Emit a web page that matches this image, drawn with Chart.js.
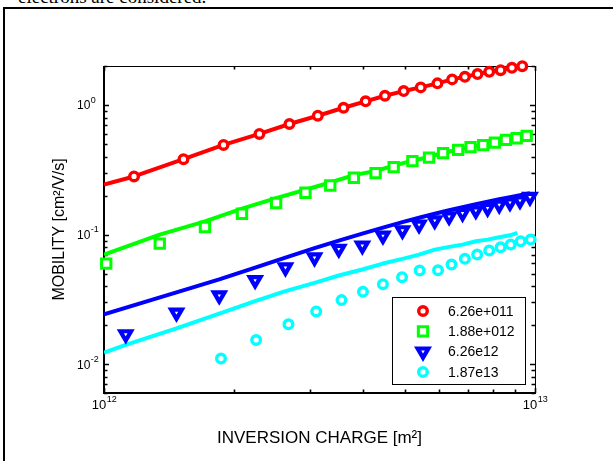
<!DOCTYPE html>
<html><head><meta charset="utf-8">
<script src="https://cdn.jsdelivr.net/npm/chart.js@4.4.0/dist/chart.umd.min.js"></script>
<style>
html,body{margin:0;padding:0;width:613px;height:461px;overflow:hidden;background:#fff;}
#caption{position:absolute;left:18px;top:-13px;font-family:"Liberation Serif","Times New Roman",serif;font-size:19px;line-height:20px;white-space:nowrap;color:#000;}
#frame{position:absolute;left:3px;top:7px;width:700px;height:600px;border:2px solid #000;box-sizing:border-box;}
#wrap{position:absolute;left:0;top:0;width:613px;height:461px;}
</style></head><body>
<div id="caption">electrons are considered.</div>
<div id="frame"></div>
<div id="wrap"><canvas id="c" width="613" height="461"></canvas></div>
<script>
// ---- tick labels ----
const tickBase = '10';
const xTickValues = [1e12, 1e13];
const xTickExponents = ['12', '13'];
const yTickValues = [0.01, 0.1, 1];
const yTickExponents = ['-2', '-1', '0'];

// ---- legend labels ----
const seriesLabels = ['6.26e+011', '1.88e+012', '6.26e12', '1.87e13'];

// ---- series 1 (red) ----
const redMarkX = [1.174e12,1.529e12,1.894e12,2.294e12,2.693e12,3.134e12,3.596e12,4.046e12,4.486e12,4.959e12,5.431e12,5.938e12,6.423e12,6.876e12,7.357e12,7.831e12,8.322e12,8.841e12,9.343e12];
const redMarkY = [0.281,0.382,0.492,0.598,0.714,0.827,0.953,1.068,1.179,1.281,1.368,1.469,1.577,1.651,1.732,1.804,1.858,1.936,1.995];
const redLineX = [1.0e12,1.174e12,1.529e12,1.894e12,2.294e12,2.693e12,3.134e12,3.596e12,4.046e12,4.486e12,4.959e12,5.431e12,5.938e12,6.423e12,6.876e12,7.357e12,7.831e12,8.322e12,8.841e12,9.343e12];
const redLineY = [0.243,0.281,0.382,0.492,0.598,0.714,0.827,0.953,1.068,1.179,1.281,1.368,1.469,1.577,1.651,1.732,1.804,1.858,1.936,1.995];

// ---- series 2 (green) ----
const greenMarkX = [1.012e12,1.347e12,1.715e12,2.09e12,2.508e12,2.934e12,3.349e12,3.80e12,4.267e12,4.70e12,5.195e12,5.678e12,6.119e12,6.631e12,7.087e12,7.583e12,8.072e12,8.562e12,9.067e12,9.566e12];
const greenMarkY = [0.0598,0.0853,0.1146,0.145,0.1753,0.2104,0.2394,0.2745,0.2983,0.3317,0.3688,0.3932,0.425,0.4506,0.4727,0.4898,0.5129,0.538,0.5543,0.5774];
const greenLineX = [1.0e12,1.347e12,1.715e12,2.09e12,2.508e12,2.934e12,3.349e12,3.80e12,4.267e12,4.70e12,5.195e12,5.678e12,6.119e12,6.631e12,7.087e12,7.583e12,8.072e12,8.562e12,9.067e12,9.566e12];
const greenLineY = [0.0702,0.1,0.1266,0.1585,0.1915,0.222,0.2526,0.2877,0.31,0.34,0.372,0.397,0.428,0.452,0.474,0.492,0.515,0.54,0.556,0.578];

// ---- series 3 (blue) ----
const blueMarkX = [1.123e12,1.473e12,1.851e12,2.242e12,2.636e12,3.079e12,3.506e12,3.975e12,4.438e12,4.925e12,5.383e12,5.853e12,6.32e12,6.79e12,7.29e12,7.762e12,8.26e12,8.75e12,9.23e12,9.736e12];
const blueMarkY = [0.01701,0.02498,0.03395,0.04451,0.05574,0.06654,0.07762,0.08228,0.09824,0.1079,0.1194,0.1288,0.1382,0.1469,0.1538,0.1605,0.1701,0.1772,0.1836,0.195];
const blueLineX = [1.0e12,1.473e12,1.851e12,2.242e12,2.636e12,3.079e12,3.506e12,3.975e12,4.438e12,4.925e12,5.383e12,5.853e12,6.32e12,6.79e12,7.29e12,7.762e12,8.26e12,8.75e12,9.23e12,9.736e12];
const blueLineY = [0.02426,0.0358,0.0451,0.0557,0.0665,0.0787,0.0899,0.1018,0.1132,0.1248,0.1351,0.145,0.1543,0.1627,0.1716,0.1794,0.1875,0.1943,0.2013,0.2085];

// ---- series 4 (cyan) ----
const cyanMarkX = [1.868e12,2.254e12,2.679e12,3.107e12,3.557e12,3.989e12,4.438e12,4.915e12,5.40e12,5.957e12,6.402e12,6.876e12,7.342e12,7.831e12,8.322e12,8.782e12,9.263e12,9.772e12];
const cyanMarkY = [0.01106,0.01538,0.02031,0.02557,0.03124,0.03624,0.04146,0.04693,0.05285,0.05313,0.05877,0.06502,0.07017,0.07531,0.07985,0.08377,0.08881,0.09153];
const cyanLineX = [1.0e12,1.123e12,1.473e12,1.851e12,2.242e12,2.636e12,3.079e12,3.506e12,3.975e12,4.438e12,4.925e12,5.383e12,5.853e12,6.32e12,6.79e12,7.29e12,7.762e12,8.26e12,8.75e12,9.10e12];
const cyanLineY = [0.0123,0.01413,0.01893,0.0246,0.0307,0.03664,0.04249,0.04836,0.05379,0.05983,0.06502,0.07017,0.07666,0.08041,0.08377,0.08881,0.09153,0.09533,0.0988,0.1031];

const FONT = '"Liberation Sans", Arial, Helvetica, sans-serif';
const colors = ['#ff0000', '#00ff00', '#0000ff', '#00ffff'];
const markerStyles = [
  {pointStyle:'circle', radius:4.3, rotation:0, lw:3.4},
  {pointStyle:'rect', radius:6.6, rotation:0, lw:3},
  {pointStyle:'triangle', radius:6.2, rotation:180, lw:4.2},
  {pointStyle:'circle', radius:4.3, rotation:0, lw:3.4}
];
const marks = [[redMarkX, redMarkY],[greenMarkX, greenMarkY],[blueMarkX, blueMarkY],[cyanMarkX, cyanMarkY]];
const lines = [[redLineX, redLineY],[greenLineX, greenLineY],[blueLineX, blueLineY],[cyanLineX, cyanLineY]];
const pts = (xs, ys) => xs.map((x, i) => ({x: x, y: ys[i]}));

const datasets = [];
marks.forEach((m, i) => {
  datasets.push({
    label: seriesLabels[i],
    data: pts(m[0], m[1]),
    showLine: false,
    pointStyle: markerStyles[i].pointStyle,
    pointRadius: markerStyles[i].radius,
    pointRotation: markerStyles[i].rotation,
    pointBorderWidth: markerStyles[i].lw,
    pointBorderColor: colors[i],
    pointBackgroundColor: '#ffffff',
    clip: false
  });
});
lines.forEach((l, i) => {
  datasets.push({
    label: seriesLabels[i] + ' fit',
    data: pts(l[0], l[1]),
    showLine: true,
    borderColor: colors[i],
    borderWidth: 4,
    borderJoinStyle: 'round',
    pointRadius: 0,
    fill: false,
    tension: 0
  });
});

function drawMarker(ctx, style, r, rot, x, y) {
  ctx.beginPath();
  if (style === 'circle') {
    ctx.arc(x, y, r, 0, Math.PI * 2);
  } else if (style === 'rect') {
    const s = r * Math.SQRT1_2;
    ctx.rect(x - s, y - s, 2 * s, 2 * s);
  } else if (style === 'triangle') {
    let rad = rot * Math.PI / 180;
    ctx.moveTo(x + Math.sin(rad) * r, y - Math.cos(rad) * r);
    rad += 2 * Math.PI / 3;
    ctx.lineTo(x + Math.sin(rad) * r, y - Math.cos(rad) * r);
    rad += 2 * Math.PI / 3;
    ctx.lineTo(x + Math.sin(rad) * r, y - Math.cos(rad) * r);
    ctx.closePath();
  }
  ctx.fill();
  ctx.stroke();
}

const axesPlugin = {
  id: 'axesPlugin',
  beforeDatasetsDraw(chart) {
    const {ctx, chartArea: a, scales: {x, y}} = chart;
    ctx.save();
    ctx.strokeStyle = '#000';
    ctx.lineWidth = 1;
    ctx.beginPath();
    ctx.moveTo(a.left, a.top + 0.5); ctx.lineTo(a.right, a.top + 0.5);
    ctx.moveTo(a.right + 0.5, a.top); ctx.lineTo(a.right + 0.5, a.bottom);
    ctx.stroke();
    ctx.lineWidth = 2;
    ctx.beginPath();
    ctx.moveTo(a.left, a.top); ctx.lineTo(a.left, a.bottom + 1);
    ctx.moveTo(a.left - 1, a.bottom); ctx.lineTo(a.right + 1, a.bottom);
    ctx.stroke();
    ctx.lineWidth = 1.6;
    ctx.beginPath();
    for (let e = -3; e <= 0; e++) {
      for (let k = 1; k <= 9; k++) {
        const v = k * Math.pow(10, e);
        if (v < y.min * 0.999 || v > y.max * 1.001) continue;
        const len = (k === 1) ? 5 : 3.5;
        const py = Math.round(y.getPixelForValue(v)) + 0.5;
        ctx.moveTo(a.left, py); ctx.lineTo(a.left + len, py);
        ctx.moveTo(a.right, py); ctx.lineTo(a.right - len, py);
      }
    }
    for (let k = 1; k <= 10; k++) {
      const v = k * 1e12;
      const len = (k === 1 || k === 10) ? 5 : 3.5;
      const px = Math.round(x.getPixelForValue(v)) + 0.5;
      ctx.moveTo(px, a.bottom); ctx.lineTo(px, a.bottom - len);
      ctx.moveTo(px, a.top); ctx.lineTo(px, a.top + len);
    }
    ctx.stroke();
    ctx.restore();
  },
  afterDatasetsDraw(chart) {
    const {ctx, chartArea: a} = chart;
    ctx.save();
    const bx = a.right - 143, by = a.bottom - 96, bw = 133, bh = 87;
    ctx.fillStyle = '#fff';
    ctx.fillRect(bx, by, bw, bh);
    ctx.strokeStyle = '#000';
    ctx.lineWidth = 1;
    ctx.strokeRect(bx + 0.5, by + 0.5, bw, bh);
    seriesLabels.forEach((lab, i) => {
      const ry = by + 14 + i * 20.3;
      ctx.fillStyle = '#fff';
      ctx.strokeStyle = colors[i];
      ctx.lineWidth = markerStyles[i].lw;
      drawMarker(ctx, markerStyles[i].pointStyle, markerStyles[i].radius, markerStyles[i].rotation, bx + 31, ry);
      ctx.fillStyle = '#000';
      ctx.font = '14px ' + FONT;
      ctx.textAlign = 'left';
      ctx.textBaseline = 'middle';
      ctx.fillText(lab, bx + 56, ry + 1);
    });
    ctx.restore();
  },
  afterDraw(chart) {
    const {ctx, chartArea: a, scales: {x, y}} = chart;
    ctx.save();
    ctx.fillStyle = '#000';
    ctx.textBaseline = 'middle';
    ctx.textAlign = 'left';
    yTickValues.forEach((v, i) => {
      const py = y.getPixelForValue(v);
      ctx.font = '12px ' + FONT;
      const wb = ctx.measureText(tickBase).width;
      const x0 = a.left - 27;
      ctx.fillText(tickBase, x0, py + 1);
      ctx.font = '9px ' + FONT;
      ctx.fillText(yTickExponents[i], x0 + wb + 0.5, py - 5);
    });
    xTickValues.forEach((v, i) => {
      const px = x.getPixelForValue(v);
      ctx.font = '13px ' + FONT;
      const wb = ctx.measureText(tickBase).width;
      ctx.font = '9px ' + FONT;
      const we = ctx.measureText(xTickExponents[i]).width;
      const x0 = px - (wb + we) / 2;
      ctx.font = '13px ' + FONT;
      ctx.fillText(tickBase, x0, a.bottom + 12);
      ctx.font = '9px ' + FONT;
      ctx.fillText(xTickExponents[i], x0 + wb + 0.5, a.bottom + 6.5);
    });
    ctx.restore();
  }
};

new Chart(document.getElementById('c'), {
  type: 'scatter',
  data: {datasets: datasets},
  options: {
    responsive: false,
    animation: false,
    devicePixelRatio: 1,
    layout: {padding: {left: 0, right: 78, top: 66, bottom: 0}},
    plugins: {legend: {display: false}, tooltip: {enabled: false}},
    scales: {
      x: {
        type: 'logarithmic', position: 'bottom', min: 1e12, max: 1e13,
        grid: {display: false, drawTicks: false}, border: {display: false},
        ticks: {display: false},
        afterFit: s => { s.height = 68; },
        title: {display: true, text: 'INVERSION CHARGE [m²]', color: '#000',
          font: {family: FONT, size: 17}, padding: {top: 0, bottom: 12.5}}
      },
      y: {
        type: 'logarithmic', position: 'left', min: 0.006, max: 2,
        grid: {display: false, drawTicks: false}, border: {display: false},
        ticks: {display: false},
        afterFit: s => { s.width = 104; },
        title: {display: true, text: 'MOBILITY [cm²/V/s]', color: '#000',
          font: {family: FONT, size: 16}, padding: {top: 50, bottom: 0}}
      }
    }
  },
  plugins: [axesPlugin]
});
</script>
</body></html>
